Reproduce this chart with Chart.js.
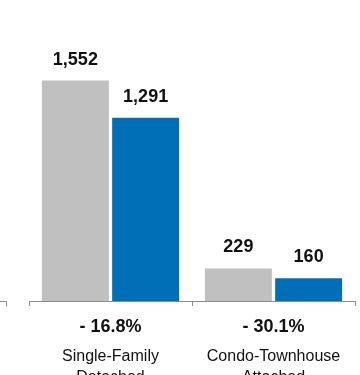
<!DOCTYPE html>
<html>
<head>
<meta charset="utf-8">
<style>
  html, body { margin: 0; padding: 0; background: #fff; overflow: hidden; }
  #sales-chart { display: block; }
</style>
</head>
<body>
<canvas id="sales-chart" width="360" height="375"></canvas>
<script src="https://cdn.jsdelivr.net/npm/chart.js@4/dist/chart.umd.min.js"></script>
<script>
// Closed sales by property type, prior year vs current year
const categories = [['Single-Family', 'Detached'], ['Condo-Townhouse', 'Attached']];
const priorYear = [1552, 229];
const currentYear = [1291, 160];

const fontFamily = '"Liberation Sans", Arial, Helvetica, sans-serif';
const axisColor = '#8c8c8c';

// "- 16.8%" style change labels, worked out from the two series
function changeLabel(i) {
    const pct = (currentYear[i] - priorYear[i]) / priorYear[i] * 100;
    return (pct < 0 ? '- ' : '+ ') + Math.abs(pct).toFixed(1) + '%';
}

// Value over each bar, percent change under the axis, and the
// bit of axis left over from the neighbouring panel
const annotations = {
    id: 'annotations',
    afterDatasetsDraw(chart) {
        const ctx = chart.ctx;
        const xScale = chart.scales.x;
        ctx.save();
        ctx.fillStyle = '#111';
        ctx.textAlign = 'center';
        ctx.textBaseline = 'alphabetic';
        ctx.font = 'bold 18px ' + fontFamily;

        chart.data.datasets.forEach((ds, di) => {
            chart.getDatasetMeta(di).data.forEach((bar, i) => {
                ctx.fillText(ds.data[i].toLocaleString('en-US'), bar.x, bar.y - 16);
            });
        });

        categories.forEach((c, i) => {
            ctx.fillText(changeLabel(i), xScale.getPixelForValue(i), xScale.top + 31);
        });

        ctx.strokeStyle = axisColor;
        ctx.lineWidth = 1;
        ctx.beginPath();
        ctx.moveTo(0, xScale.top + 0.5);
        ctx.lineTo(6.5, xScale.top + 0.5);
        ctx.lineTo(6.5, xScale.top + 5.5);
        ctx.stroke();
        ctx.restore();
    }
};

new Chart(document.getElementById('sales-chart'), {
    type: 'bar',
    data: {
        labels: categories,
        datasets: [
            { label: 'Prior Year', data: priorYear, backgroundColor: '#c0c0c0' },
            { label: 'Current Year', data: currentYear, backgroundColor: '#006fb7' }
        ]
    },
    options: {
        responsive: false,
        animation: false,
        categoryPercentage: 0.862,
        barPercentage: 0.953,
        layout: { padding: { left: 29, right: 5, top: 17, bottom: 0 } },
        plugins: {
            legend: { display: false },
            tooltip: { enabled: false }
        },
        scales: {
            y: { display: false, min: 0, max: 2000 },
            x: {
                border: { color: axisColor, width: 1 },
                grid: {
                    offset: true,
                    drawOnChartArea: false,
                    color: axisColor,
                    tickLength: 5
                },
                ticks: {
                    color: '#111',
                    padding: 40,
                    font: { family: fontFamily, size: 16, lineHeight: 1.3 }
                },
                // labels run off the bottom edge; keep the plot area where it is
                afterFit(scale) {
                    scale.paddingLeft = 0;
                    scale.paddingRight = 0;
                    scale.height = 74;
                }
            }
        }
    },
    plugins: [annotations]
});
</script>
</body>
</html>
